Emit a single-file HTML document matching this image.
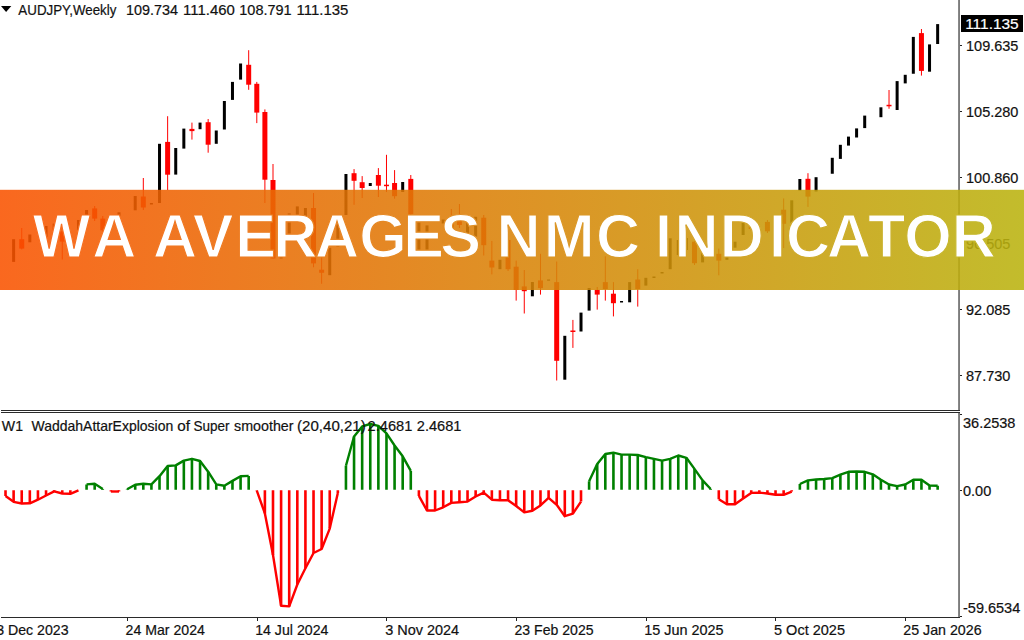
<!DOCTYPE html>
<html><head><meta charset="utf-8">
<style>
html,body{margin:0;padding:0;background:#fff;}
body{width:1024px;height:640px;overflow:hidden;position:relative;}
svg{position:absolute;left:0;top:0;}
.t{font-family:"Liberation Sans",sans-serif;font-size:14.5px;fill:#111;stroke:#111;stroke-width:0.2px;}
.r{fill:#ff0000;}
</style></head>
<body>
<svg width="1024" height="640" viewBox="0 0 1024 640">
<g id="candles" fill="#000">
<rect x="12.12" y="239.2" width="3" height="22.7"/>
<rect class="r" x="21.23" y="228" width="1" height="21.4"/>
<rect class="r" x="19.23" y="239.2" width="5" height="9.4"/>
<rect x="28.33" y="234.5" width="3" height="7.8"/>
<rect x="44.55" y="226" width="3" height="10.9"/>
<rect x="52.65" y="223.6" width="3" height="6.4"/>
<rect class="r" x="61.76" y="226" width="1" height="33.5"/>
<rect class="r" x="59.76" y="231.4" width="5" height="10.2"/>
<rect x="76.97" y="220" width="3" height="10"/>
<rect x="85.07" y="210" width="3" height="6.5"/>
<rect class="r" x="94.18" y="206" width="1" height="15"/>
<rect class="r" x="92.18" y="208.4" width="5" height="10.2"/>
<rect class="r" x="102.28" y="216" width="1" height="16"/>
<rect class="r" x="100.28" y="218.6" width="5" height="11.7"/>
<rect x="117.49" y="212.3" width="3" height="4.2"/>
<rect x="133.71" y="196" width="3" height="14.3"/>
<rect class="r" x="142.81" y="178" width="1" height="32"/>
<rect class="r" x="140.81" y="196.5" width="5" height="11"/>
<rect x="149.92" y="203" width="3" height="1.5"/>
<rect x="158.02" y="143.8" width="3" height="59.2"/>
<rect class="r" x="167.13" y="116.2" width="1" height="73.8"/>
<rect class="r" x="165.13" y="141.9" width="5" height="32.8"/>
<rect x="174.23" y="148" width="3" height="26.6"/>
<rect x="182.34" y="128.6" width="3" height="20"/>
<rect class="r" x="191.44" y="122.6" width="1" height="17"/>
<rect class="r" x="189.44" y="128.9" width="5" height="2.2"/>
<rect x="198.55" y="122.6" width="3" height="6.6"/>
<rect class="r" x="207.65" y="119" width="1" height="33.7"/>
<rect class="r" x="205.65" y="122.2" width="5" height="22.5"/>
<rect x="214.76" y="130.5" width="3" height="13.3"/>
<rect x="222.87" y="101" width="3" height="28.5"/>
<rect x="230.97" y="81.9" width="3" height="18"/>
<rect x="239.08" y="63.5" width="3" height="16.1"/>
<rect class="r" x="248.18" y="50.2" width="1" height="39.6"/>
<rect class="r" x="246.18" y="64.8" width="5" height="19.9"/>
<rect class="r" x="256.29" y="81.9" width="1" height="41.2"/>
<rect class="r" x="254.29" y="83.8" width="5" height="28.8"/>
<rect class="r" x="264.39" y="109.4" width="1" height="93.6"/>
<rect class="r" x="262.39" y="112" width="5" height="67.7"/>
<rect class="r" x="272.5" y="164" width="1" height="94.5"/>
<rect class="r" x="270.5" y="180" width="5" height="78.5"/>
<rect x="279.6" y="257" width="3" height="1.5"/>
<rect x="287.71" y="213.4" width="3" height="23.5"/>
<rect x="295.82" y="206.4" width="3" height="14.9"/>
<rect x="303.92" y="208" width="3" height="15"/>
<rect class="r" x="313.03" y="193" width="1" height="74.3"/>
<rect class="r" x="311.03" y="208" width="5" height="55.4"/>
<rect class="r" x="321.13" y="257.2" width="1" height="26.55"/>
<rect class="r" x="319.13" y="269.7" width="5" height="3.1"/>
<rect x="328.24" y="247.8" width="3" height="27.4"/>
<rect x="336.34" y="216" width="3" height="31"/>
<rect x="344.45" y="174" width="3" height="41"/>
<rect class="r" x="353.55" y="169.1" width="1" height="35.7"/>
<rect class="r" x="351.55" y="173.2" width="5" height="7.6"/>
<rect class="r" x="361.66" y="176.1" width="1" height="21.9"/>
<rect class="r" x="359.66" y="182.2" width="5" height="5.8"/>
<rect x="368.76" y="183" width="3" height="3"/>
<rect class="r" x="377.87" y="168.1" width="1" height="28.9"/>
<rect class="r" x="375.87" y="175" width="5" height="10.7"/>
<rect class="r" x="385.98" y="154.8" width="1" height="37.2"/>
<rect class="r" x="383.98" y="184.7" width="5" height="1.5"/>
<rect class="r" x="394.08" y="170.1" width="1" height="28.6"/>
<rect class="r" x="392.08" y="183" width="5" height="13.2"/>
<rect x="401.19" y="182" width="3" height="10"/>
<rect class="r" x="410.29" y="175" width="1" height="41"/>
<rect class="r" x="408.29" y="178.9" width="5" height="35.3"/>
<rect x="417.4" y="222" width="3" height="28"/>
<rect x="425.5" y="225.4" width="3" height="24.9"/>
<rect x="441.71" y="219.5" width="3" height="4"/>
<rect class="r" x="450.82" y="209" width="1" height="21"/>
<rect class="r" x="448.82" y="217" width="5" height="11"/>
<rect class="r" x="458.93" y="204" width="1" height="24"/>
<rect class="r" x="456.93" y="217" width="5" height="8"/>
<rect x="466.03" y="217.7" width="3" height="18.9"/>
<rect x="474.14" y="216.8" width="3" height="19.8"/>
<rect class="r" x="483.24" y="215" width="1" height="40.5"/>
<rect class="r" x="481.24" y="217.7" width="5" height="27.5"/>
<rect class="r" x="491.35" y="240.9" width="1" height="33.5"/>
<rect class="r" x="489.35" y="260.6" width="5" height="6.9"/>
<rect x="498.45" y="259.8" width="3" height="9.4"/>
<rect class="r" x="507.56" y="238" width="1" height="33"/>
<rect class="r" x="505.56" y="240" width="5" height="29.2"/>
<rect class="r" x="515.66" y="260.6" width="1" height="40"/>
<rect class="r" x="513.66" y="266.7" width="5" height="23.3"/>
<rect class="r" x="523.77" y="270" width="1" height="43.5"/>
<rect class="r" x="521.77" y="286.4" width="5" height="4.8"/>
<rect x="530.88" y="282" width="3" height="14.3"/>
<rect class="r" x="539.98" y="253.8" width="1" height="40.8"/>
<rect class="r" x="537.98" y="280.4" width="5" height="7.7"/>
<rect x="547.09" y="279.5" width="3" height="1.2"/>
<rect class="r" x="556.19" y="261.5" width="1" height="119"/>
<rect class="r" x="554.19" y="282.1" width="5" height="78.7"/>
<rect x="563.3" y="335.8" width="3" height="43.9"/>
<rect class="r" x="572.4" y="319.9" width="1" height="28"/>
<rect class="r" x="570.4" y="330.5" width="5" height="1.5"/>
<rect x="579.51" y="312.6" width="3" height="18.9"/>
<rect x="587.61" y="288" width="3" height="22.6"/>
<rect class="r" x="596.72" y="287" width="1" height="22.6"/>
<rect class="r" x="594.72" y="289.9" width="5" height="4.7"/>
<rect class="r" x="604.82" y="256.3" width="1" height="44.3"/>
<rect class="r" x="602.82" y="282.1" width="5" height="6.9"/>
<rect class="r" x="612.93" y="282.1" width="1" height="34.3"/>
<rect class="r" x="610.93" y="293.7" width="5" height="9.5"/>
<rect x="620.04" y="301" width="3" height="1.5"/>
<rect x="628.14" y="282.1" width="3" height="20.2"/>
<rect class="r" x="637.25" y="269.2" width="1" height="37.4"/>
<rect class="r" x="635.25" y="279.5" width="5" height="9.5"/>
<rect x="644.35" y="277.8" width="3" height="7.8"/>
<rect x="652.46" y="276.5" width="3" height="1.5"/>
<rect x="660.56" y="272" width="3" height="1.5"/>
<rect x="668.67" y="238.3" width="3" height="30.9"/>
<rect x="676.77" y="240" width="3" height="15"/>
<rect x="684.88" y="238" width="3" height="12"/>
<rect class="r" x="693.99" y="240" width="1" height="25"/>
<rect class="r" x="691.99" y="241.7" width="5" height="21.5"/>
<rect x="701.09" y="250.3" width="3" height="12.1"/>
<rect class="r" x="718.3" y="248.6" width="1" height="26.7"/>
<rect class="r" x="716.3" y="253.8" width="5" height="6.8"/>
<rect x="725.41" y="257.2" width="3" height="2.6"/>
<rect x="733.51" y="241.7" width="3" height="6"/>
<rect x="741.62" y="222.8" width="3" height="12.2"/>
<rect class="r" x="750.72" y="223.7" width="1" height="7.6"/>
<rect class="r" x="748.72" y="226" width="5" height="3"/>
<rect class="r" x="766.93" y="220" width="1" height="13"/>
<rect class="r" x="764.93" y="221.9" width="5" height="9.4"/>
<rect class="r" x="783.15" y="198.4" width="1" height="49.7"/>
<rect class="r" x="781.15" y="209.7" width="5" height="14.1"/>
<rect x="790.25" y="200.3" width="3" height="22.5"/>
<rect x="798.36" y="179" width="3" height="11.5"/>
<rect class="r" x="807.46" y="173.2" width="1" height="33.7"/>
<rect class="r" x="805.46" y="178.8" width="5" height="17.8"/>
<rect x="814.57" y="177.2" width="3" height="14.3"/>
<rect x="830.78" y="157.8" width="3" height="15.95"/>
<rect x="838.88" y="144.8" width="3" height="14.1"/>
<rect x="846.99" y="136.6" width="3" height="9"/>
<rect x="855.09" y="128.4" width="3" height="9.1"/>
<rect x="863.2" y="115.6" width="3" height="12.5"/>
<rect x="879.41" y="107.3" width="3" height="9.9"/>
<rect class="r" x="888.52" y="90" width="1" height="18.75"/>
<rect class="r" x="886.52" y="104.8" width="5" height="1.5"/>
<rect x="895.62" y="81.1" width="3" height="28.9"/>
<rect x="903.73" y="74.8" width="3" height="8.6"/>
<rect x="911.83" y="36.9" width="3" height="36.85"/>
<rect class="r" x="920.94" y="29" width="1" height="46.6"/>
<rect class="r" x="918.94" y="33.1" width="5" height="37.8"/>
<rect x="928.04" y="44.4" width="3" height="27.3"/>
<rect x="936.15" y="24.1" width="3" height="19.9"/>
</g>
<g id="ind">
<path d="M5.52 490.3V496M13.62 490.3V501.8M21.73 490.3V503.5M29.83 490.3V503.3M37.94 490.3V499.7M46.05 490.3V495.5M54.15 490.3V491.4M62.26 490.3V493.5M70.36 490.3V493.8M78.47 490.3V490.3" stroke="#ff0000" stroke-width="2.6" fill="none"/>
<polyline points="5.52,496 13.62,501.8 21.73,503.5 29.83,503.3 37.94,499.7 46.05,495.5 54.15,491.4 62.26,493.5 70.36,493.8 78.47,490.3" stroke="#ff0000" stroke-width="2.4" fill="none" stroke-linejoin="round"/>
<path d="M86.57 489.7V484.4M94.68 489.7V483.8M102.78 489.7V488.9" stroke="#008000" stroke-width="2.6" fill="none"/>
<polyline points="86.57,484.4 94.68,483.8 102.78,488.9" stroke="#008000" stroke-width="2.4" fill="none" stroke-linejoin="round"/>
<path d="M110.89 490.3V491.5M118.99 490.3V491.5" stroke="#ff0000" stroke-width="2.6" fill="none"/>
<polyline points="110.89,491.5 118.99,491.5" stroke="#ff0000" stroke-width="2.4" fill="none" stroke-linejoin="round"/>
<path d="M127.1 489.7V489.3M135.21 489.7V484.7M143.31 489.7V483.8M151.42 489.7V484.4M159.52 489.7V476.2M167.63 489.7V466M175.73 489.7V465.4M183.84 489.7V460.6M191.94 489.7V458.8M200.05 489.7V461M208.15 489.7V471.7M216.26 489.7V484.4M224.37 489.7V485.7M232.47 489.7V480.9M240.58 489.7V476.2M248.68 489.7V475.9" stroke="#008000" stroke-width="2.6" fill="none"/>
<polyline points="127.1,489.3 135.21,484.7 143.31,483.8 151.42,484.4 159.52,476.2 167.63,466 175.73,465.4 183.84,460.6 191.94,458.8 200.05,461 208.15,471.7 216.26,484.4 224.37,485.7 232.47,480.9 240.58,476.2 248.68,475.9" stroke="#008000" stroke-width="2.4" fill="none" stroke-linejoin="round"/>
<path d="M256.79 490.3V490.7M264.89 490.3V513.4M273 490.3V555M281.1 490.3V605.8M289.21 490.3V606.4M297.32 490.3V584.5M305.42 490.3V568.2M313.53 490.3V553M321.63 490.3V549M329.74 490.3V528.6M337.84 490.3V493" stroke="#ff0000" stroke-width="2.6" fill="none"/>
<polyline points="256.79,490.7 264.89,513.4 273,555 281.1,605.8 289.21,606.4 297.32,584.5 305.42,568.2 313.53,553 321.63,549 329.74,528.6 337.84,493" stroke="#ff0000" stroke-width="2.4" fill="none" stroke-linejoin="round"/>
<path d="M345.95 489.7V465.7M354.05 489.7V436.5M362.16 489.7V426.4M370.26 489.7V424M378.37 489.7V425.8M386.48 489.7V433.4M394.58 489.7V445.5M402.69 489.7V456.3M410.79 489.7V470.9" stroke="#008000" stroke-width="2.6" fill="none"/>
<polyline points="345.95,465.7 354.05,436.5 362.16,426.4 370.26,424 378.37,425.8 386.48,433.4 394.58,445.5 402.69,456.3 410.79,470.9" stroke="#008000" stroke-width="2.4" fill="none" stroke-linejoin="round"/>
<path d="M418.9 490.3V495.9M427 490.3V510.5M435.11 490.3V510.5M443.21 490.3V507.3M451.32 490.3V502.9M459.43 490.3V502.2M467.53 490.3V501.6M475.64 490.3V496.5M483.74 490.3V492.7M491.85 490.3V499.7M499.95 490.3V500.3M508.06 490.3V500.3M516.16 490.3V506M524.27 490.3V512.4M532.38 490.3V510.8M540.48 490.3V505.4M548.59 490.3V497.8M556.69 490.3V504.8M564.8 490.3V516.2M572.9 490.3V513.6M581.01 490.3V501.6" stroke="#ff0000" stroke-width="2.6" fill="none"/>
<polyline points="418.9,495.9 427,510.5 435.11,510.5 443.21,507.3 451.32,502.9 459.43,502.2 467.53,501.6 475.64,496.5 483.74,492.7 491.85,499.7 499.95,500.3 508.06,500.3 516.16,506 524.27,512.4 532.38,510.8 540.48,505.4 548.59,497.8 556.69,504.8 564.8,516.2 572.9,513.6 581.01,501.6" stroke="#ff0000" stroke-width="2.4" fill="none" stroke-linejoin="round"/>
<path d="M589.11 489.7V481.3M597.22 489.7V464.1M605.32 489.7V454M613.43 489.7V452.7M621.54 489.7V454.6M629.64 489.7V454.6M637.75 489.7V455M645.85 489.7V457.1M653.96 489.7V458.8M662.06 489.7V460.6M670.17 489.7V458.8M678.27 489.7V455.5M686.38 489.7V457.8M694.49 489.7V468.9M702.59 489.7V480.4M710.7 489.7V489" stroke="#008000" stroke-width="2.6" fill="none"/>
<polyline points="589.11,481.3 597.22,464.1 605.32,454 613.43,452.7 621.54,454.6 629.64,454.6 637.75,455 645.85,457.1 653.96,458.8 662.06,460.6 670.17,458.8 678.27,455.5 686.38,457.8 694.49,468.9 702.59,480.4 710.7,489" stroke="#008000" stroke-width="2.4" fill="none" stroke-linejoin="round"/>
<path d="M718.8 490.3V499.2M726.91 490.3V504.3M735.01 490.3V504.3M743.12 490.3V498.6M751.22 490.3V492.9M759.33 490.3V492.6M767.43 490.3V493.5M775.54 490.3V494.8M783.65 490.3V494.8M791.75 490.3V491.6" stroke="#ff0000" stroke-width="2.6" fill="none"/>
<polyline points="718.8,499.2 726.91,504.3 735.01,504.3 743.12,498.6 751.22,492.9 759.33,492.6 767.43,493.5 775.54,494.8 783.65,494.8 791.75,491.6" stroke="#ff0000" stroke-width="2.4" fill="none" stroke-linejoin="round"/>
<path d="M799.86 489.7V484M807.96 489.7V480.4M816.07 489.7V479.5M824.17 489.7V479M832.28 489.7V478.1M840.38 489.7V474.7M848.49 489.7V471.8M856.59 489.7V471.5M864.7 489.7V471.8M872.81 489.7V474.3M880.91 489.7V479.8M889.02 489.7V484.5M897.12 489.7V486.1M905.23 489.7V484.5M913.33 489.7V479.8M921.44 489.7V479.8M929.54 489.7V485.5M937.65 489.7V485.7" stroke="#008000" stroke-width="2.6" fill="none"/>
<polyline points="799.86,484 807.96,480.4 816.07,479.5 824.17,479 832.28,478.1 840.38,474.7 848.49,471.8 856.59,471.5 864.7,471.8 872.81,474.3 880.91,479.8 889.02,484.5 897.12,486.1 905.23,484.5 913.33,479.8 921.44,479.8 929.54,485.5 937.65,485.7" stroke="#008000" stroke-width="2.4" fill="none" stroke-linejoin="round"/>
</g>
<!-- frame lines -->
<rect x="958.1" y="0" width="1.9" height="411" fill="#7c7c7c"/>
<rect x="958.1" y="412" width="1.9" height="205" fill="#7c7c7c"/>
<rect x="1" y="410" width="959" height="1" fill="#2a2a2a"/>
<rect x="1" y="412" width="959" height="1" fill="#2a2a2a"/>
<rect x="1" y="617" width="959" height="1" fill="#2a2a2a"/>
<!-- price ticks -->
<g fill="#222">
<rect x="960" y="45" width="2" height="1"/>
<rect x="960" y="111" width="2" height="1"/>
<rect x="960" y="177" width="2" height="1"/>
<rect x="960" y="243" width="2" height="1"/>
<rect x="960" y="309" width="2" height="1"/>
<rect x="960" y="375" width="2" height="1"/>
<rect x="960" y="490" width="2" height="1"/>
<rect x="960" y="414" width="2" height="1"/>
<rect x="960" y="616" width="2" height="1"/>
<rect x="127" y="618" width="1" height="3"/>
<rect x="257" y="618" width="1" height="3"/>
<rect x="386" y="618" width="1" height="3"/>
<rect x="516" y="618" width="1" height="3"/>
<rect x="646" y="618" width="1" height="3"/>
<rect x="775" y="618" width="1" height="3"/>
<rect x="905" y="618" width="1" height="3"/>
</g>
<rect x="961" y="15" width="62" height="17" fill="#000"/>
<text class="t" x="966" y="51">109.635</text>
<text class="t" x="966" y="117">105.280</text>
<text class="t" x="966" y="183">100.860</text>
<text class="t" x="966" y="249">96.505</text>
<text class="t" x="966" y="315">92.085</text>
<text class="t" x="966" y="381">87.730</text>
<text class="t" x="963" y="428">36.2538</text>
<text class="t" x="963" y="496">0.00</text>
<text class="t" x="963" y="613">-59.6534</text>
<text class="t" x="18.37" y="14.7" textLength="98.05" lengthAdjust="spacingAndGlyphs">AUDJPY,Weekly</text>
<text class="t" x="125.90" y="14.7" textLength="52.02" lengthAdjust="spacingAndGlyphs">109.734</text>
<text class="t" x="183.11" y="14.7" textLength="51.75" lengthAdjust="spacingAndGlyphs">111.460</text>
<text class="t" x="239.30" y="14.7" textLength="52.31" lengthAdjust="spacingAndGlyphs">108.791</text>
<text class="t" x="296.61" y="14.7" textLength="51.79" lengthAdjust="spacingAndGlyphs">111.135</text>
<text class="t" x="1.84" y="430.5" textLength="21.15" lengthAdjust="spacingAndGlyphs">W1</text>
<text class="t" x="31.54" y="430.5" textLength="141.67" lengthAdjust="spacingAndGlyphs">WaddahAttarExplosion</text>
<text class="t" x="177.16" y="430.5" textLength="12.72" lengthAdjust="spacingAndGlyphs">of</text>
<text class="t" x="193.59" y="430.5" textLength="36.04" lengthAdjust="spacingAndGlyphs">Super</text>
<text class="t" x="234.00" y="430.5" textLength="59.53" lengthAdjust="spacingAndGlyphs">smoother</text>
<text class="t" x="297.07" y="430.5" textLength="68.67" lengthAdjust="spacingAndGlyphs">(20,40,21)</text>
<text class="t" x="367.56" y="430.5" textLength="44.75" lengthAdjust="spacingAndGlyphs">2.4681</text>
<text class="t" x="416.76" y="430.5" textLength="44.75" lengthAdjust="spacingAndGlyphs">2.4681</text>
<text class="t" x="-3.84" y="634.7" textLength="72.46" lengthAdjust="spacingAndGlyphs">3 Dec 2023</text>
<text class="t" x="125.54" y="634.7" textLength="79.38" lengthAdjust="spacingAndGlyphs">24 Mar 2024</text>
<text class="t" x="255.17" y="634.7" textLength="73.24" lengthAdjust="spacingAndGlyphs">14 Jul 2024</text>
<text class="t" x="385.20" y="634.7" textLength="73.97" lengthAdjust="spacingAndGlyphs">3 Nov 2024</text>
<text class="t" x="514.54" y="634.7" textLength="79.05" lengthAdjust="spacingAndGlyphs">23 Feb 2025</text>
<text class="t" x="644.15" y="634.7" textLength="79.46" lengthAdjust="spacingAndGlyphs">15 Jun 2025</text>
<text class="t" x="774.02" y="634.7" textLength="70.99" lengthAdjust="spacingAndGlyphs">5 Oct 2025</text>
<text class="t" x="903.28" y="634.7" textLength="78.34" lengthAdjust="spacingAndGlyphs">25 Jan 2026</text>
<text class="t" x="965.17" y="29" textLength="53.55" lengthAdjust="spacingAndGlyphs" style="fill:#fff;stroke:#fff">111.135</text>
<path d="M1 6H11.3L6.1 12Z" fill="#000"/>
<defs><linearGradient id="bg" x1="0" y1="0" x2="1" y2="0">
<stop offset="0" stop-color="#f95300"/><stop offset="1" stop-color="#bab30f"/></linearGradient>
<linearGradient id="bg2" gradientUnits="userSpaceOnUse" x1="0" y1="0" x2="1024" y2="0"><stop offset="0" stop-color="#fa6920"/><stop offset="1" stop-color="#c2bc2c"/></linearGradient></defs>
<rect x="0" y="189.8" width="1024" height="100.2" fill="url(#bg)" fill-opacity="0.88"/>
<text x="32.8 92.3 122.3 152.9 192.8 235.2 273.2 315.1 359.2 403.3 440.2 470.2 496.6 543.7 596.0 626.0 655.1 674.4 719.7 768.9 786.0 827.0 868.1 904.3 951.8" y="257.4" style="font-family:'Liberation Sans',sans-serif;font-weight:bold;font-size:61px;fill:#fff;stroke:url(#bg2);stroke-width:1.2px">WA AVERAGES NMC INDICATOR</text>
</svg>
</body></html>
